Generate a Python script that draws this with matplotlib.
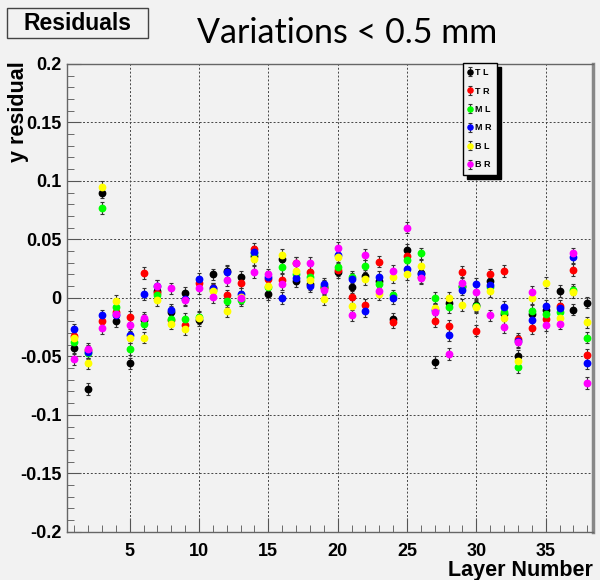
import matplotlib
matplotlib.use('Agg')
import matplotlib.pyplot as plt
from matplotlib.patches import FancyBboxPatch
from matplotlib.ticker import MultipleLocator, FixedLocator, FixedFormatter

# residuals per layer for the six sensor positions
layers = list(range(1, 39))
TL = [-0.043, -0.078, 0.090, -0.020, -0.056, -0.019, 0.006, -0.012, 0.004, -0.019,
      0.020, 0.023, 0.018, 0.036, 0.003, 0.033, 0.014, 0.012, 0.009, 0.022,
      0.009, 0.019, 0.014, -0.018, 0.041, 0.021, -0.055, -0.004, 0.010, -0.006,
      0.014, -0.014, -0.050, -0.014, -0.010, 0.006, -0.010, -0.004]
TR = [-0.033, -0.045, -0.020, -0.012, -0.016, 0.021, 0.004, -0.019, -0.023, 0.013,
      0.008, 0.002, 0.013, 0.042, 0.016, 0.015, 0.030, 0.022, 0.008, 0.024,
      0.001, -0.006, 0.031, -0.021, 0.036, 0.018, -0.020, -0.024, 0.022, -0.028,
      0.020, 0.023, -0.035, -0.026, -0.018, -0.007, 0.024, -0.049]
ML = [-0.038, -0.047, 0.077, -0.008, -0.044, -0.022, 0.002, -0.018, -0.018, -0.016,
      0.007, -0.003, -0.002, 0.038, 0.009, 0.026, 0.020, 0.018, 0.010, 0.026,
      0.018, 0.027, 0.012, 0.002, 0.032, 0.038, 0.000, -0.008, 0.009, -0.007,
      0.009, -0.012, -0.059, -0.011, -0.014, -0.012, 0.007, -0.034]
MR = [-0.027, -0.046, -0.015, -0.015, -0.032, 0.003, 0.010, -0.010, -0.001, 0.016,
      0.008, 0.022, 0.003, 0.039, 0.018, 0.000, 0.017, 0.010, 0.012, 0.037,
      0.016, -0.011, 0.018, 0.000, 0.025, 0.020, -0.010, -0.032, 0.007, 0.012,
      0.011, -0.008, -0.037, -0.019, -0.007, -0.009, 0.035, -0.056]
BL = [-0.034, -0.056, 0.095, -0.003, -0.034, -0.034, -0.002, -0.022, -0.027, -0.017,
      0.006, -0.011, 0.001, 0.033, 0.010, 0.037, 0.023, 0.015, -0.001, 0.035,
      -0.007, 0.016, 0.003, 0.018, 0.020, 0.027, -0.009, 0.000, -0.006, -0.008,
      0.006, -0.017, -0.054, 0.000, 0.013, -0.017, 0.005, -0.021]
BR = [-0.052, -0.044, -0.026, -0.014, -0.023, -0.017, 0.010, 0.008, -0.002, 0.008,
      0.001, 0.015, 0.000, 0.022, 0.020, 0.012, 0.030, 0.030, 0.007, 0.043,
      -0.015, 0.037, 0.006, 0.023, 0.060, 0.017, -0.012, -0.048, 0.013, 0.005,
      -0.015, -0.025, -0.038, 0.005, -0.023, -0.022, 0.038, -0.073]
err = 0.005

names = ['T L', 'T R', 'M L', 'M R', 'B L', 'B R']
series = [TL, TR, ML, MR, BL, BR]
colors = ['black', '#ff0000', '#00ff00', '#0000ff', '#ffff00', '#ff00ff']

ytick_vals = [-0.2, -0.15, -0.1, -0.05, 0, 0.05, 0.1, 0.15, 0.2]
ytick_labels = ['-0.2', '-0.15', '-0.1', '-0.05', '0', '0.05', '0.1', '0.15', '0.2']
xtick_vals = [5, 10, 15, 20, 25, 30, 35]

bg = '#f2f2f2'
plt.rcParams['font.family'] = ['Liberation Sans', 'DejaVu Sans']

fig = plt.figure(figsize=(6, 5.8), dpi=100, facecolor=bg)
ax = fig.add_axes([0.111, 0.083, 0.877, 0.807], facecolor=bg)

for name, vals, c in zip(names, series, colors):
    ax.errorbar(layers, vals, yerr=err, fmt='o', color=c, ms=4.6, mec=c,
                ecolor='#333333', elinewidth=0.8, capsize=1.5, capthick=0.8,
                label=name, zorder=3)

ax.set_xlim(0.45, 38.4)
ax.set_ylim(-0.2, 0.2)

ax.xaxis.set_major_locator(FixedLocator(xtick_vals))
ax.xaxis.set_minor_locator(MultipleLocator(1))
ax.yaxis.set_major_locator(FixedLocator(ytick_vals))
ax.yaxis.set_major_formatter(FixedFormatter(ytick_labels))
ax.yaxis.set_minor_locator(MultipleLocator(0.01))
ax.tick_params(which='both', direction='in', color='#555555', labelsize=13)
ax.tick_params(which='major', length=10)
ax.tick_params(which='minor', length=5)
ax.tick_params(axis='x', pad=8)
for lab in ax.get_xticklabels() + ax.get_yticklabels():
    lab.set_fontweight('bold')

ax.grid(True, which='major', color='#444444', linestyle=(0, (2, 2)), linewidth=0.7)
ax.set_axisbelow(True)

for s in ['left', 'bottom', 'top']:
    ax.spines[s].set_color('#666666')
    ax.spines[s].set_linewidth(1.0)
ax.spines['right'].set_color('#888888')
ax.spines['right'].set_linewidth(2.5)

ax.set_xlabel('Layer Number', fontsize=15.5, fontweight='bold', loc='right', labelpad=0)
ax.set_ylabel('y residual', fontsize=15.5, fontweight='bold', loc='top')
ax.yaxis.set_label_coords(-0.072, 1.005)

leg = ax.legend(loc='upper left', bbox_to_anchor=(0.772, 0.892), bbox_transform=fig.transFigure,
                borderaxespad=0, frameon=True, fancybox=False, edgecolor='black',
                facecolor=bg, framealpha=1, prop={'size': 6.5, 'weight': 'bold'},
                labelspacing=1.05, handlelength=0.4, handletextpad=0.3, borderpad=0.6,
                markerscale=0.8, shadow={'color': 'black', 'alpha': 1, 'ox': 3, 'oy': -3})
leg.set_zorder(5)

# stats-box style label in the upper left corner
box = FancyBboxPatch((0.012, 0.934), 0.235, 0.052, boxstyle='square,pad=0',
                     transform=fig.transFigure, facecolor=bg, edgecolor='#444444', linewidth=1.0)
fig.patches.append(box)
fig.text(0.129, 0.960, 'Residuals', ha='center', va='center', fontsize=16.5, fontweight='bold')

fig.text(0.578, 0.943, 'Variations < 0.5 mm', ha='center', va='center',
         fontsize=24.5, family=['Lato', 'DejaVu Sans'])

fig.savefig('out.png', dpi=100, facecolor=bg)
